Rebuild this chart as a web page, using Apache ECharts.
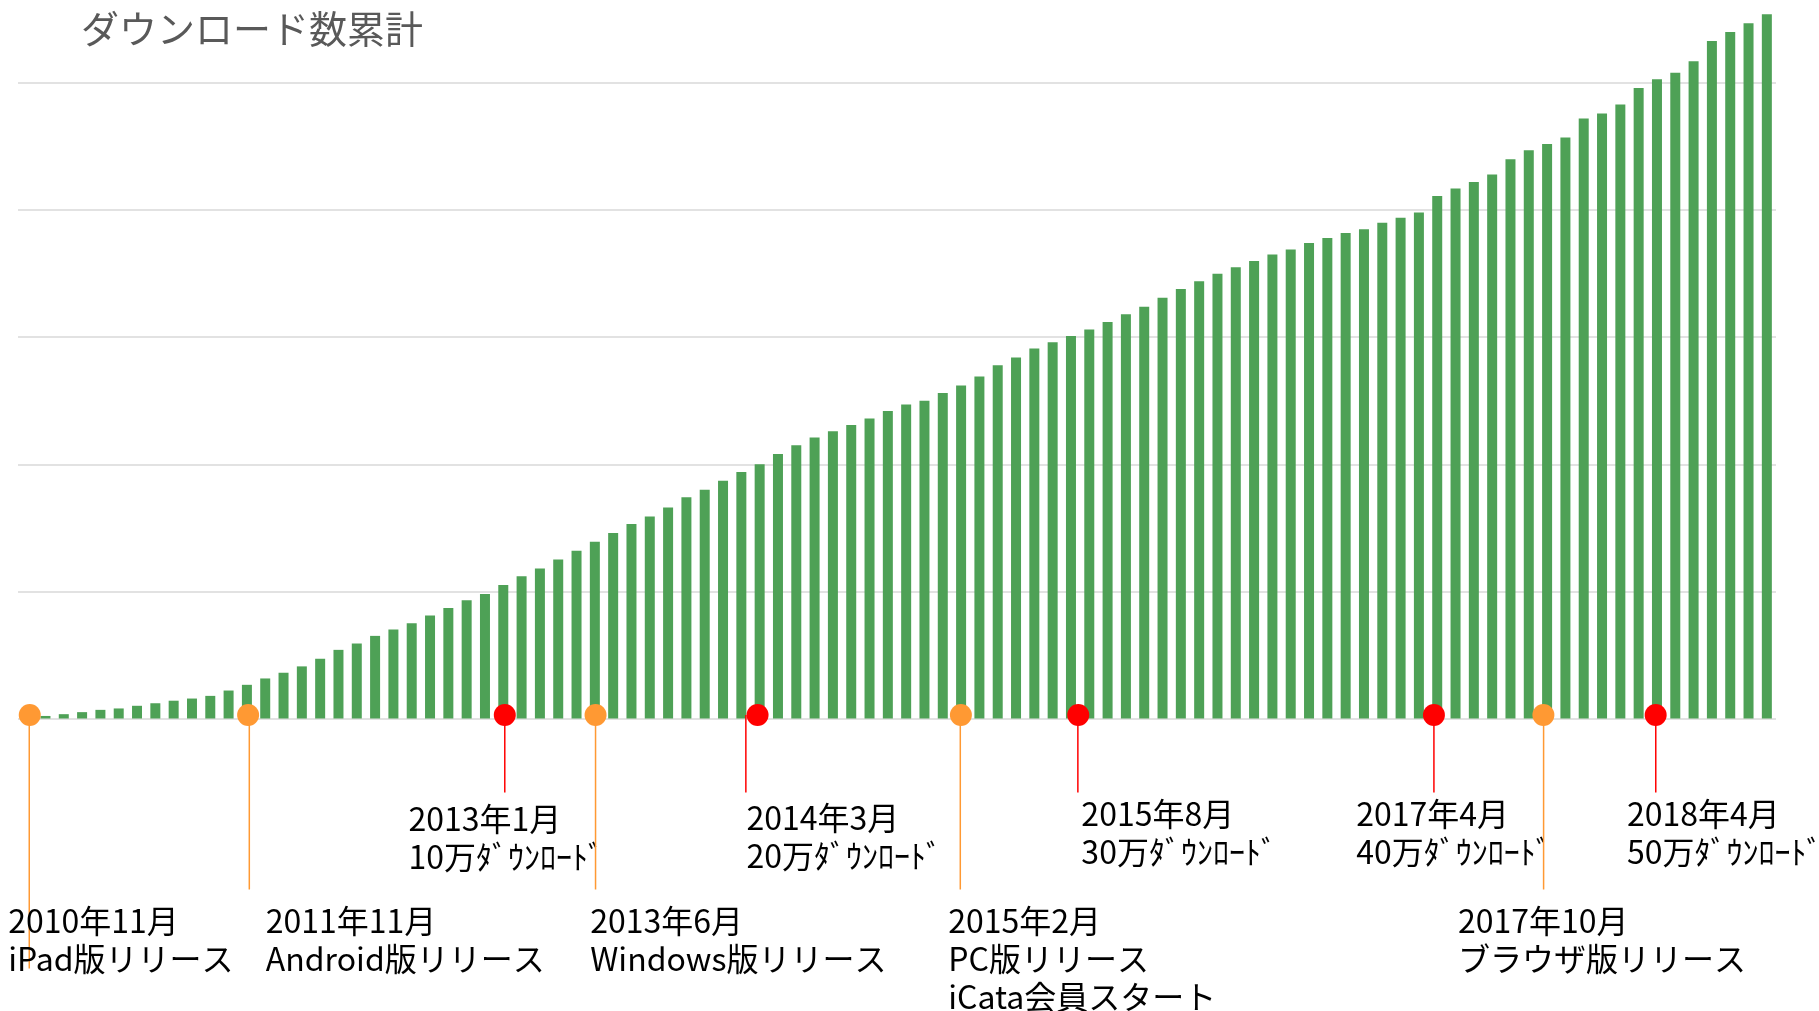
<!DOCTYPE html>
<html>
<head>
<meta charset="utf-8">
<script src="https://cdn.jsdelivr.net/npm/echarts@6/dist/echarts.min.js"></script>
<style>
html,body{margin:0;padding:0;background:#fff;}
#chart{width:1819px;height:1011px;}
</style>
</head>
<body>
<div id="chart"></div>
<script>
// Months from 2010-11 to 2018-10
const categories = [];
for (let y = 2010, m = 11; !(y === 2018 && m === 11); ) {
  categories.push(y + '-' + (m < 10 ? '0' + m : m));
  m++; if (m > 12) { m = 1; y++; }
}

// Cumulative downloads
const downloads = [
  1000, 2000, 3400, 5000, 6800, 7900, 10000, 12000, 14000, 15700,
  17800, 22000, 26500, 31500, 36000, 41000, 47000, 54000, 59000, 65000,
  70000, 75000, 81000, 87000, 93000, 98000, 105000, 112000, 118000, 125000,
  132000, 139000, 146000, 153000, 159000, 166000, 174000, 180000, 187000, 194000,
  200000, 208000, 215000, 221000, 226000, 231000, 236000, 242000, 247000, 250000,
  256000, 262000, 269000, 278000, 284000, 291000, 296000, 301000, 306000, 312000,
  318000, 324000, 331000, 338000, 344000, 350000, 355000, 360000, 365000, 369000,
  374000, 378000, 382000, 385000, 390000, 394000, 398000, 411000, 417000, 422000,
  428000, 440000, 447000, 452000, 457000, 472000, 476000, 483000, 496000, 503000,
  508000, 517000, 533000, 540000, 547000, 554000
];

const chartTitle = 'ダウンロード数累計';

// Events
const eventMonth = ['2010-11','2011-11','2013-01','2013-06','2014-03','2015-02','2015-08','2017-04','2017-10','2018-04'];
const eventKind = ['release','release','milestone','release','milestone','release','milestone','milestone','release','milestone'];
const eventText = [
  '2010年11月\niPad版リリース',
  '2011年11月\nAndroid版リリース',
  '2013年1月\n10万ﾀﾞｳﾝﾛｰﾄﾞ',
  '2013年6月\nWindows版リリース',
  '2014年3月\n20万ﾀﾞｳﾝﾛｰﾄﾞ',
  '2015年2月\nPC版リリース\niCata会員スタート',
  '2015年8月\n30万ﾀﾞｳﾝﾛｰﾄﾞ',
  '2017年4月\n40万ﾀﾞｳﾝﾛｰﾄﾞ',
  '2017年10月\nブラウザ版リリース',
  '2018年4月\n50万ﾀﾞｳﾝﾛｰﾄﾞ'
];

// Layout of event marks (pixel offsets, kept separate from data)
const dotDx   = [2.6, 1.2, 1.5, 0.7, -2.1, -0.2, 7.3, -3.3, -3.7, -1.3];
const lineDx  = [-0.5, 1.2, 0, 0, -11.7, -0.6, -0.4, 0, 0.2, 0.1];
const labelDx = [-21.6, 17.7, -96.3, -5.3, -11.1, -12.6, 3.1, -77.7, -85.4, -28.7];
const labelDy = [0, 0, 3, 0, 2, 0, -2, -2, 0, -2];
const lineExtra = [79, 0, 0, 0, 0, 0, 0, 0, 0, 0];

const FONT = '"Noto Sans CJK JP", "Noto Sans", sans-serif';
const kindStyle = {
  release: { color: '#FF9933', lineLen: 171, textTop: 183 },
  milestone: { color: '#FF0000', lineLen: 74, textTop: 78 }
};

const eventData = eventMonth.map((m, i) => [categories.indexOf(m), 0, i]);

const chart = echarts.init(document.getElementById('chart'));
chart.setOption({
  animation: false,
  title: {
    text: chartTitle,
    left: 76,
    top: 5,
    textStyle: { fontSize: 38, fontWeight: 'normal', color: '#595959', fontFamily: FONT }
  },
  grid: { left: 18, right: 43, top: 6.7, bottom: 292.5 },
  xAxis: {
    type: 'category',
    data: categories,
    axisLine: { show: false },
    axisTick: { show: false },
    axisLabel: { show: false },
    splitLine: { show: false }
  },
  yAxis: {
    type: 'value',
    min: 0,
    max: 560000,
    interval: 100000,
    axisLine: { show: false },
    axisTick: { show: false },
    axisLabel: { show: false },
    splitLine: { show: true, showMaxLine: false, lineStyle: { color: '#d9d9d9', width: 1.5 } }
  },
  series: [
    {
      type: 'bar',
      data: downloads,
      barWidth: 10,
      itemStyle: { color: '#4EA156' },
      z: 2
    },
    {
      type: 'custom',
      data: eventData,
      clip: false,
      z: 5,
      renderItem: function (params, api) {
        const idx = api.value(2);
        const p = api.coord([api.value(0), 0]);
        const ks = kindStyle[eventKind[idx]];
        const cx = p[0] + dotDx[idx], cy = p[1] - 3.5;
        const lx = cx + lineDx[idx];
        return {
          type: 'group',
          children: [
            {
              type: 'line',
              shape: { x1: lx, y1: cy, x2: lx, y2: p[1] + ks.lineLen + lineExtra[idx] },
              style: { stroke: ks.color, lineWidth: 1.5 }
            },
            {
              type: 'circle',
              shape: { cx: cx, cy: cy, r: 11 },
              style: { fill: ks.color }
            },
            {
              type: 'text',
              x: cx + labelDx[idx],
              y: p[1] + ks.textTop + labelDy[idx],
              style: {
                text: eventText[idx],
                fill: '#000',
                fontSize: 32,
                fontFamily: FONT,
                lineHeight: 38,
                align: 'left',
                verticalAlign: 'top'
              }
            }
          ]
        };
      }
    }
  ]
});
</script>
</body>
</html>
